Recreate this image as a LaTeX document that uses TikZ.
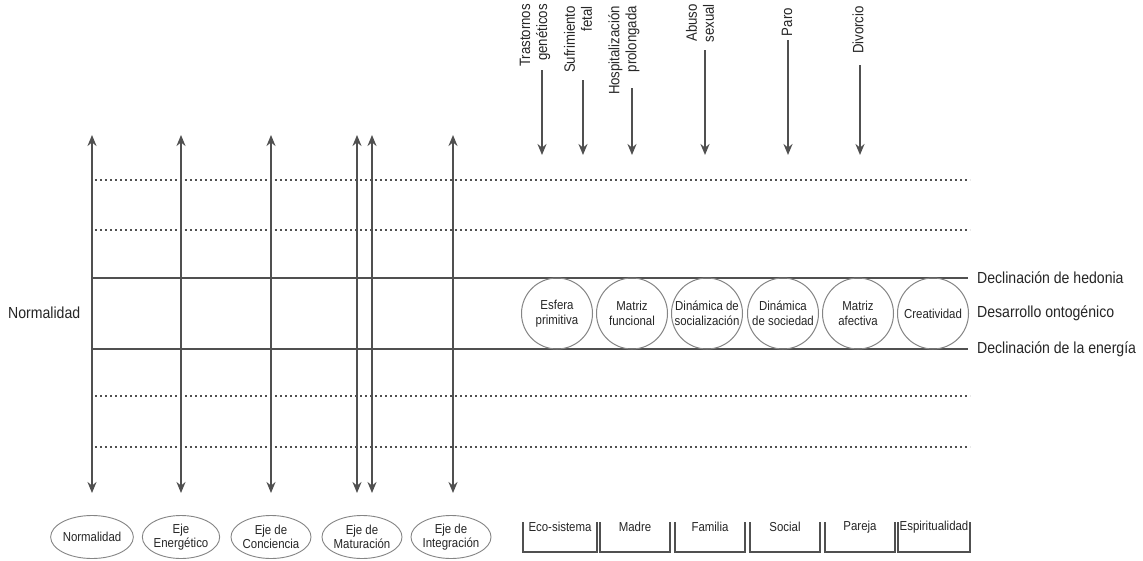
\documentclass[tikz,border=0pt]{standalone}
\usepackage{fontspec}
\setmainfont{Liberation Sans}[FakeStretch=0.88]
\usetikzlibrary{arrows.meta,shapes.geometric}
\definecolor{ln}{HTML}{505050}
\definecolor{tx}{HTML}{262626}
\definecolor{cl}{HTML}{858585}
\begin{document}
\begin{tikzpicture}[x=1pt,y=-1pt,
  tip/.style={-{Stealth[length=11pt,width=9pt]}},
  axis/.style={draw=ln,line width=2pt,{Stealth[length=11pt,width=9pt]}-{Stealth[length=11pt,width=9pt]}},
  dots/.style={draw=ln,line width=2pt,dash pattern=on 2pt off 3pt},
  band/.style={draw=ln,line width=2.2pt},
  circ/.style={circle,draw=cl,line width=1pt,minimum size=71pt,inner sep=0pt,align=center,font=\fontsize{13}{15}\selectfont,text=tx},
  ell/.style={ellipse,draw=cl,line width=0.9pt,minimum width=66pt,minimum height=43pt,inner sep=0pt,align=center,font=\fontsize{13}{13.5}\selectfont,text=tx},
  down/.style={draw=ln,line width=2pt,tip},
  toplab/.style={rotate=90,anchor=east,align=right,inner sep=0pt,font=\fontsize{15}{17}\selectfont,text=tx},
  sidelab/.style={anchor=west,inner sep=0pt,font=\fontsize{16}{18}\selectfont,text=tx},
  cell/.style={draw=ln,line width=1.1pt},
  celltxt/.style={inner sep=0pt,font=\fontsize{13}{14}\selectfont,text=tx}]
\useasboundingbox[fill=white] (0,0) rectangle (1143,560);

% dotted guide lines
\foreach \n/\y in {d1/180,d2/230,d3/396,d4/447}{
  \coordinate (\n a) at (95,\y);
  \coordinate (\n b) at (970,\y);
  \draw[dots] (\n a) -- (\n b);
}
% band lines
\coordinate (ha) at (92,278); \coordinate (hb) at (968,278);
\coordinate (ea) at (92,349); \coordinate (eb) at (968,349);
\draw[band] (ha) -- (hb);
\draw[band] (ea) -- (eb);

% vertical axes
\foreach \n/\x in {v1/92,v2/181,v3/271,v4/357,v5/372,v6/453}{
  \coordinate (\n t) at (\x,135);
  \coordinate (\n b) at (\x,493);
  \draw[axis] (\n t) -- (\n b);
}

% side labels
\node[sidelab] (norm) at (8,313) {Normalidad};
\node[sidelab] (hed) at (977,278) {Declinación de hedonia};
\node[sidelab] (ont) at (977,313) {Desarrollo ontogénico};
\node[sidelab] (ene) at (977,349) {Declinación de la energía};

% circles
\node[circ] (c1) at (557,313.5) {Esfera\\primitiva};
\node[circ] (c2) at (632,313.5) {Matriz\\funcional};
\node[circ] (c3) at (707,313.5) {Dinámica de\\socialización};
\node[circ] (c4) at (783,313.5) {Dinámica\\de sociedad};
\node[circ] (c5) at (858,313.5) {Matriz\\afectiva};
\node[circ] (c6) at (933,313.5) {Creatividad};

% top labels and arrows
\node[toplab] (t1) at (535,4) {Trastornos\\genéticos};
\node[toplab] (t2) at (578,6) {Sufrimiento\\fetal};
\node[toplab] (t3) at (624,6) {Hospitalización\\prolongada};
\node[toplab] (t4) at (700,4) {Abuso\\sexual};
\node[toplab] (t5) at (787,8) {Paro};
\node[toplab] (t6) at (858,6) {Divorcio};
\foreach \n/\x/\y in {a1/542/70,a2/583/80,a3/632/88,a4/705/50,a5/788/40,a6/860/65}{
  \coordinate (\n s) at (\x,\y);
  \coordinate (\n e) at (\x,155);
  \draw[down] (\n s) -- (\n e);
}

% bottom ellipses
\node[ell] (e1) at (92,537) {Normalidad};
\node[ell] (e2) at (181,537) {Eje\\Energético};
\node[ell] (e3) at (271,537) {Eje de\\Conciencia};
\node[ell] (e4) at (362,537) {Eje de\\Maturación};
\node[ell] (e5) at (451,537) {Eje de\\Integración};

% bottom cells
\foreach \n/\xa/\xb/\t in {b1/523/597/Eco-sistema,b2/600/670/Madre,b3/675/745/Familia,b4/750/820/Social,b5/825/895/Pareja,b6/898/970/Espiritualidad}{
  \draw[cell] (\xa,522) -- (\xa,552) -- (\xb,552) -- (\xb,522);
  \node[celltxt] (\n) at ({(\xa+\xb)/2},527) {\t};
}
\end{tikzpicture}
\end{document}
